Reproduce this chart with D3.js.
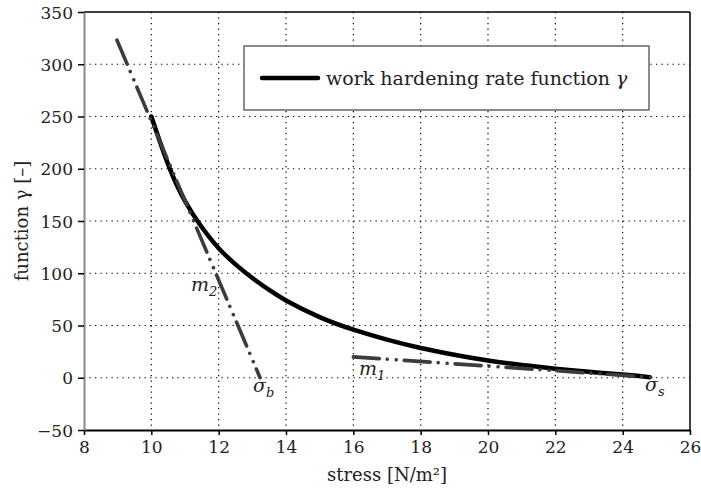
<!DOCTYPE html>
<html><head><meta charset="utf-8">
<script src="https://cdn.jsdelivr.net/npm/d3@7"></script>
<style>body{margin:0;background:#fff} svg text{font-family:"DejaVu Serif","Liberation Serif","Noto Serif",serif;}</style>
</head><body>
<svg id="c" width="701" height="494"></svg>
<script>
// data
const stress = [10, 10.5, 11, 11.5, 12, 12.5, 13, 13.5, 14, 15, 16, 17, 18, 19, 20, 21, 22, 23, 24, 24.8];
const gammaVals = [250, 204, 169, 144, 124, 108.5, 95.5, 84, 74, 58, 46, 36.5, 28.5, 22, 16.5, 12.3, 8.7, 5.7, 3, 0.5];
const m2Stress = [8.98, 13.23];
const m2Gamma = [323, 0];
const m1Stress = [16, 25.05];
const m1Gamma = [20, 0];
const xTicks = [8, 10, 12, 14, 16, 18, 20, 22, 24, 26];
const yTicks = [-50, 0, 50, 100, 150, 200, 250, 300, 350];
const legendLabel = "work hardening rate function ";
const xLabel = "stress [N/m²]";
const yLabel = "function γ [–]";

const L = 84, R = 690, T = 12, B = 430;
const FS_TICK = 17, FS_LAB = 18, FS_LEG = 19;
const svg = d3.select("#c");
const x = d3.scaleLinear().domain([8, 26]).range([L, R]);
const y = d3.scaleLinear().domain([-50, 350]).range([B, T]);

// grid
const grid = svg.append("g").attr("stroke", "#000").attr("stroke-width", 1.2).attr("stroke-dasharray", "1.3,4.2");
grid.selectAll("line.v").data(xTicks.slice(1, -1)).enter().append("line")
  .attr("x1", d => x(d)).attr("x2", d => x(d)).attr("y1", T).attr("y2", B);
grid.selectAll("line.h").data(yTicks.slice(1, -1)).enter().append("line")
  .attr("y1", d => y(d)).attr("y2", d => y(d)).attr("x1", L).attr("x2", R);

// frame top/right
svg.append("line").attr("x1", L).attr("x2", R).attr("y1", T).attr("y2", T).attr("stroke", "#000").attr("stroke-width", 1.5);
svg.append("line").attr("x1", R).attr("x2", R).attr("y1", T).attr("y2", B).attr("stroke", "#000").attr("stroke-width", 1.5);

// axes
const xAxis = svg.append("g").attr("transform", `translate(0,${B})`)
  .call(d3.axisBottom(x).tickValues(xTicks).tickSize(5).tickSizeOuter(0).tickFormat(d3.format("d")));
xAxis.select(".domain").attr("stroke", "#000").attr("stroke-width", 2);
xAxis.selectAll(".tick line").attr("stroke", "#000").attr("stroke-width", 1.5);
xAxis.selectAll(".tick text").attr("font-size", FS_TICK).attr("fill", "#222").attr("dy", "0.95em").attr("y", 7);

const yAxis = svg.append("g").attr("transform", `translate(${L},0)`)
  .call(d3.axisLeft(y).tickValues(yTicks).tickSize(6).tickSizeOuter(0).tickFormat(d => d < 0 ? "−" + Math.abs(d) : d));
yAxis.select(".domain").attr("stroke", "#888").attr("stroke-width", 2);
yAxis.selectAll(".tick line").attr("stroke", "#000").attr("stroke-width", 1.5);
yAxis.selectAll(".tick text").attr("font-size", FS_TICK).attr("fill", "#222").attr("x", -11).attr("dy", "0.36em");
svg.selectAll("g").attr("font-family", null).attr("font-size", null);

// curve
const line = d3.line().x(d => x(d[0])).y(d => y(d[1])).curve(d3.curveNatural);
svg.append("path").datum(stress.map((s, i) => [s, gammaVals[i]]))
  .attr("d", line).attr("fill", "none").attr("stroke", "#000").attr("stroke-width", 4.5).attr("stroke-linecap", "round");

// tangent lines
const straight = d3.line().x(d => x(d[0])).y(d => y(d[1]));
const dashStyle = "26,8,0.01,9,0.01,8";
[[m2Stress, m2Gamma], [m1Stress, m1Gamma]].forEach(([xs, ys]) => {
  svg.append("path").datum(xs.map((s, i) => [s, ys[i]]))
    .attr("d", straight).attr("fill", "none").attr("stroke", "#3c3c3c").attr("stroke-width", 3.6)
    .attr("stroke-linecap", "round").attr("stroke-dasharray", dashStyle);
});

// annotations
function ann(main, sub, px, py) {
  const t = svg.append("text").attr("x", px).attr("y", py)
    .attr("font-style", "italic").attr("font-size", FS_LEG).attr("fill", "#222");
  t.append("tspan").text(main);
  t.append("tspan").attr("font-size", 13).attr("dy", 5).text(sub);
}
ann("m", "2", 191, 291);
ann("σ", "b", 253, 392);
ann("m", "1", 359, 375);
ann("σ", "s", 645, 391);

// legend
svg.append("rect").attr("x", 244).attr("y", 46).attr("width", 405).attr("height", 64)
  .attr("fill", "#fff").attr("stroke", "#666").attr("stroke-width", 1.5);
svg.append("line").attr("x1", 262).attr("x2", 318).attr("y1", 78).attr("y2", 78)
  .attr("stroke", "#000").attr("stroke-width", 4.5).attr("stroke-linecap", "round");
const lt = svg.append("text").attr("x", 326).attr("y", 85).attr("font-size", FS_LEG).attr("fill", "#222");
lt.append("tspan").text(legendLabel);
lt.append("tspan").attr("font-style", "italic").text("γ");

// axis labels
svg.append("text").attr("x", (L + R) / 2).attr("y", 481).attr("text-anchor", "middle")
  .attr("font-size", FS_LAB).attr("fill", "#222").text(xLabel);
svg.append("text").attr("transform", `translate(28,${(T + B) / 2}) rotate(-90)`).attr("text-anchor", "middle")
  .attr("font-size", FS_LAB).attr("fill", "#222").text(yLabel);
</script>
</body></html>
